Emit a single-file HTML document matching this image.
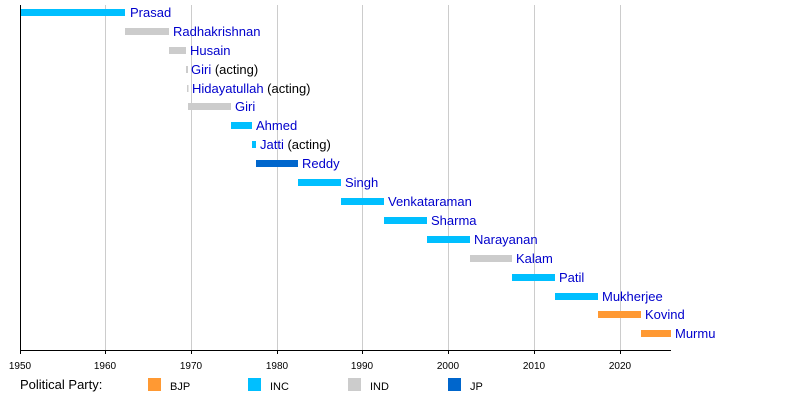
<!DOCTYPE html>
<html><head><meta charset="utf-8"><style>
body{margin:0;background:#fff}
svg{font-family:"Liberation Sans",sans-serif}
</style></head><body>
<svg width="800" height="400" xmlns="http://www.w3.org/2000/svg">
<g stroke="#ccc" stroke-width="1">
<line x1="105.5" y1="5" x2="105.5" y2="350"/>
<line x1="191.5" y1="5" x2="191.5" y2="350"/>
<line x1="277.5" y1="5" x2="277.5" y2="350"/>
<line x1="362.5" y1="5" x2="362.5" y2="350"/>
<line x1="448.5" y1="5" x2="448.5" y2="350"/>
<line x1="534.5" y1="5" x2="534.5" y2="350"/>
<line x1="620.5" y1="5" x2="620.5" y2="350"/>
</g>
<g stroke="#000" stroke-width="1">
<line x1="20.5" y1="5" x2="20.5" y2="350"/>
<line x1="20" y1="350.5" x2="671" y2="350.5"/>
<line x1="20.5" y1="350" x2="20.5" y2="354"/>
<line x1="105.5" y1="350" x2="105.5" y2="354"/>
<line x1="191.5" y1="350" x2="191.5" y2="354"/>
<line x1="277.5" y1="350" x2="277.5" y2="354"/>
<line x1="362.5" y1="350" x2="362.5" y2="354"/>
<line x1="448.5" y1="350" x2="448.5" y2="354"/>
<line x1="534.5" y1="350" x2="534.5" y2="354"/>
<line x1="620.5" y1="350" x2="620.5" y2="354"/>
</g>
<g font-size="10" text-anchor="middle" fill="#000">
<text x="20" y="369">1950</text><text x="105" y="369">1960</text><text x="191" y="369">1970</text><text x="277" y="369">1980</text><text x="362" y="369">1990</text><text x="448" y="369">2000</text><text x="534" y="369">2010</text><text x="620" y="369">2020</text>
</g>
<g>
<rect x="21" y="9" width="104" height="7" fill="#00BFFF"/>
<rect x="125" y="28" width="44" height="7" fill="#cccccc"/>
<rect x="169" y="47" width="17" height="7" fill="#cccccc"/>
<rect x="186" y="66" width="2" height="7" fill="#cccccc"/>
<rect x="187" y="85" width="1.5" height="7" fill="#cccccc"/>
<rect x="188" y="103" width="43" height="7" fill="#cccccc"/>
<rect x="231" y="122" width="21" height="7" fill="#00BFFF"/>
<rect x="252" y="141" width="4" height="7" fill="#00BFFF"/>
<rect x="256" y="160" width="42" height="7" fill="#0066CC"/>
<rect x="298" y="179" width="43" height="7" fill="#00BFFF"/>
<rect x="341" y="198" width="43" height="7" fill="#00BFFF"/>
<rect x="384" y="217" width="43" height="7" fill="#00BFFF"/>
<rect x="427" y="236" width="43" height="7" fill="#00BFFF"/>
<rect x="470" y="255" width="42" height="7" fill="#cccccc"/>
<rect x="512" y="274" width="43" height="7" fill="#00BFFF"/>
<rect x="555" y="293" width="43" height="7" fill="#00BFFF"/>
<rect x="598" y="311" width="43" height="7" fill="#FF9933"/>
<rect x="641" y="330" width="30" height="7" fill="#FF9933"/>
</g>
<g font-size="13" fill="#0000CC">
<text x="130" y="17">Prasad</text>
<text x="173" y="36">Radhakrishnan</text>
<text x="190" y="55">Husain</text>
<text x="191" y="74">Giri <tspan fill="#000">(acting)</tspan></text>
<text x="192" y="93">Hidayatullah <tspan fill="#000">(acting)</tspan></text>
<text x="235" y="111">Giri</text>
<text x="256" y="130">Ahmed</text>
<text x="260" y="149">Jatti <tspan fill="#000">(acting)</tspan></text>
<text x="302" y="168">Reddy</text>
<text x="345" y="187">Singh</text>
<text x="388" y="206">Venkataraman</text>
<text x="431" y="225">Sharma</text>
<text x="474" y="244">Narayanan</text>
<text x="516" y="263">Kalam</text>
<text x="559" y="282">Patil</text>
<text x="602" y="301">Mukherjee</text>
<text x="645" y="319">Kovind</text>
<text x="675" y="338">Murmu</text>
</g>
<g fill="#000">
<text x="20" y="389" font-size="13">Political Party:</text>
<g font-size="11">
<rect x="148" y="378" width="13" height="13" fill="#FF9933"/><text x="170" y="390">BJP</text>
<rect x="248" y="378" width="13" height="13" fill="#00BFFF"/><text x="270" y="390">INC</text>
<rect x="348" y="378" width="13" height="13" fill="#cccccc"/><text x="370" y="390">IND</text>
<rect x="448" y="378" width="13" height="13" fill="#0066CC"/><text x="470" y="390">JP</text>
</g>
</g>
</svg>
</body></html>
